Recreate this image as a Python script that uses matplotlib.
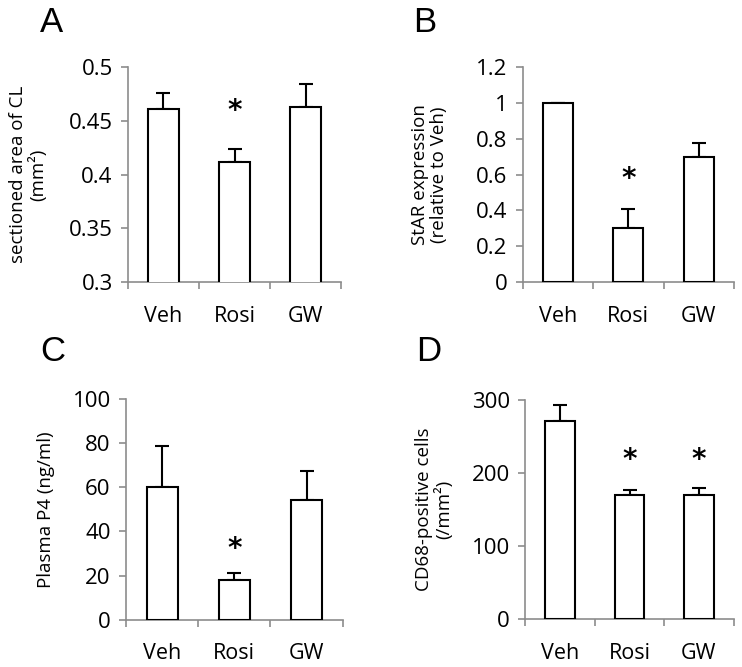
import matplotlib
matplotlib.use("Agg")
import matplotlib.pyplot as plt
from matplotlib.ticker import FixedLocator, NullFormatter

plt.rcParams['font.family'] = ['Open Sans', 'DejaVu Sans']

groups = ["Veh", "Rosi", "GW"]

area_vals = [0.461, 0.412, 0.463]
area_err = [0.015, 0.012, 0.021]
area_sig = [False, True, False]

star_vals = [1.0, 0.305, 0.695]
star_err = [0.0, 0.105, 0.083]
star_sig = [False, True, False]

p4_vals = [60.3, 18.0, 54.1]
p4_err = [18.3, 3.3, 13.4]
p4_sig = [False, True, False]

cd68_vals = [272, 170.5, 170.5]
cd68_err = [21, 7, 9]
cd68_sig = [False, True, True]

panels = [
    dict(letter="A", vals=area_vals, err=area_err, sig=area_sig, star_y=0.4585,
         ylim=(0.3, 0.5), yticks=[0.3, 0.35, 0.4, 0.45, 0.5],
         yticklabels=["0.3", "0.35", "0.4", "0.45", "0.5"],
         ylabel="sectioned area of CL\n(mm\u00b2)",
         rect=[0.1725, 0.5767, 0.2871, 0.3233], labx=-0.38,
         lpos=(40, 32)),
    dict(letter="B", vals=star_vals, err=star_err, sig=star_sig, star_y=0.575,
         ylim=(0, 1.2), yticks=[0, 0.2, 0.4, 0.6, 0.8, 1.0, 1.2],
         yticklabels=["0", "0.2", "0.4", "0.6", "0.8", "1", "1.2"],
         ylabel="StAR expression\n(relative to Veh)",
         rect=[0.7044, 0.5767, 0.2848, 0.3233], labx=-0.353,
         lpos=(413, 32)),
    dict(letter="C", vals=p4_vals, err=p4_err, sig=p4_sig, star_y=32,
         ylim=(0, 100), yticks=[0, 20, 40, 60, 80, 100],
         yticklabels=["0", "20", "40", "60", "80", "100"],
         ylabel="Plasma P4 (ng/ml)",
         rect=[0.1698, 0.0709, 0.2921, 0.3309], labx=-0.328,
         lpos=(40, 361)),
    dict(letter="D", vals=cd68_vals, err=cd68_err, sig=cd68_sig, star_y=218,
         ylim=(0, 300), yticks=[0, 100, 200, 300],
         yticklabels=["0", "100", "200", "300"],
         ylabel="CD68-positive cells\n(/mm\u00b2)",
         rect=[0.708, 0.072, 0.2808, 0.3278], labx=-0.347,
         lpos=(416, 361)),
]

W, H = 742, 667
fig = plt.figure(figsize=(W / 100, H / 100), dpi=100)
fig.patch.set_facecolor("white")

spine_col = "#8c8c8c"
for p in panels:
    ax = fig.add_axes(p["rect"])
    x = list(range(len(groups)))
    ax.bar(x, p["vals"], width=0.43, color="white", edgecolor="black",
           linewidth=1.5, zorder=3)
    ax.errorbar(x, p["vals"], yerr=[[0] * 3, p["err"]], fmt="none",
                ecolor="black", elinewidth=1.5, capsize=5, capthick=1.5, zorder=2)
    for xi, s in zip(x, p["sig"]):
        if s:
            ax.text(xi, p["star_y"], "*", ha="center", va="center",
                    fontsize=20, fontweight="bold", family="DejaVu Sans")
    ax.set_xlim(-0.5, 2.5)
    ax.set_ylim(*p["ylim"])
    ax.set_yticks(p["yticks"])
    ax.set_yticklabels(p["yticklabels"])
    ax.set_xticks(x)
    ax.set_xticklabels(groups)
    ax.xaxis.set_minor_locator(FixedLocator([-0.5, 0.5, 1.5, 2.5]))
    ax.xaxis.set_minor_formatter(NullFormatter())
    ax.tick_params(axis="x", which="major", length=0, pad=17, labelsize=15.5)
    ax.tick_params(axis="x", which="minor", length=5, width=1.2, color=spine_col,
                   direction="out")
    ax.tick_params(axis="y", length=5, width=1.2, color=spine_col, pad=6,
                   labelsize=16, direction="out")
    for side in ["top", "right"]:
        ax.spines[side].set_visible(False)
    for side in ["left", "bottom"]:
        ax.spines[side].set_color(spine_col)
        ax.spines[side].set_linewidth(1.2)
    ax.set_ylabel(p["ylabel"], fontsize=13.5, multialignment="center",
                  linespacing=1.1)
    ax.yaxis.set_label_coords(p["labx"], 0.5)
    lx, ly = p["lpos"]
    fig.text(lx / W, 1 - ly / H, p["letter"], ha="left", va="baseline",
             fontsize=25, family="Liberation Sans")

fig.savefig("out.png", dpi=100)
